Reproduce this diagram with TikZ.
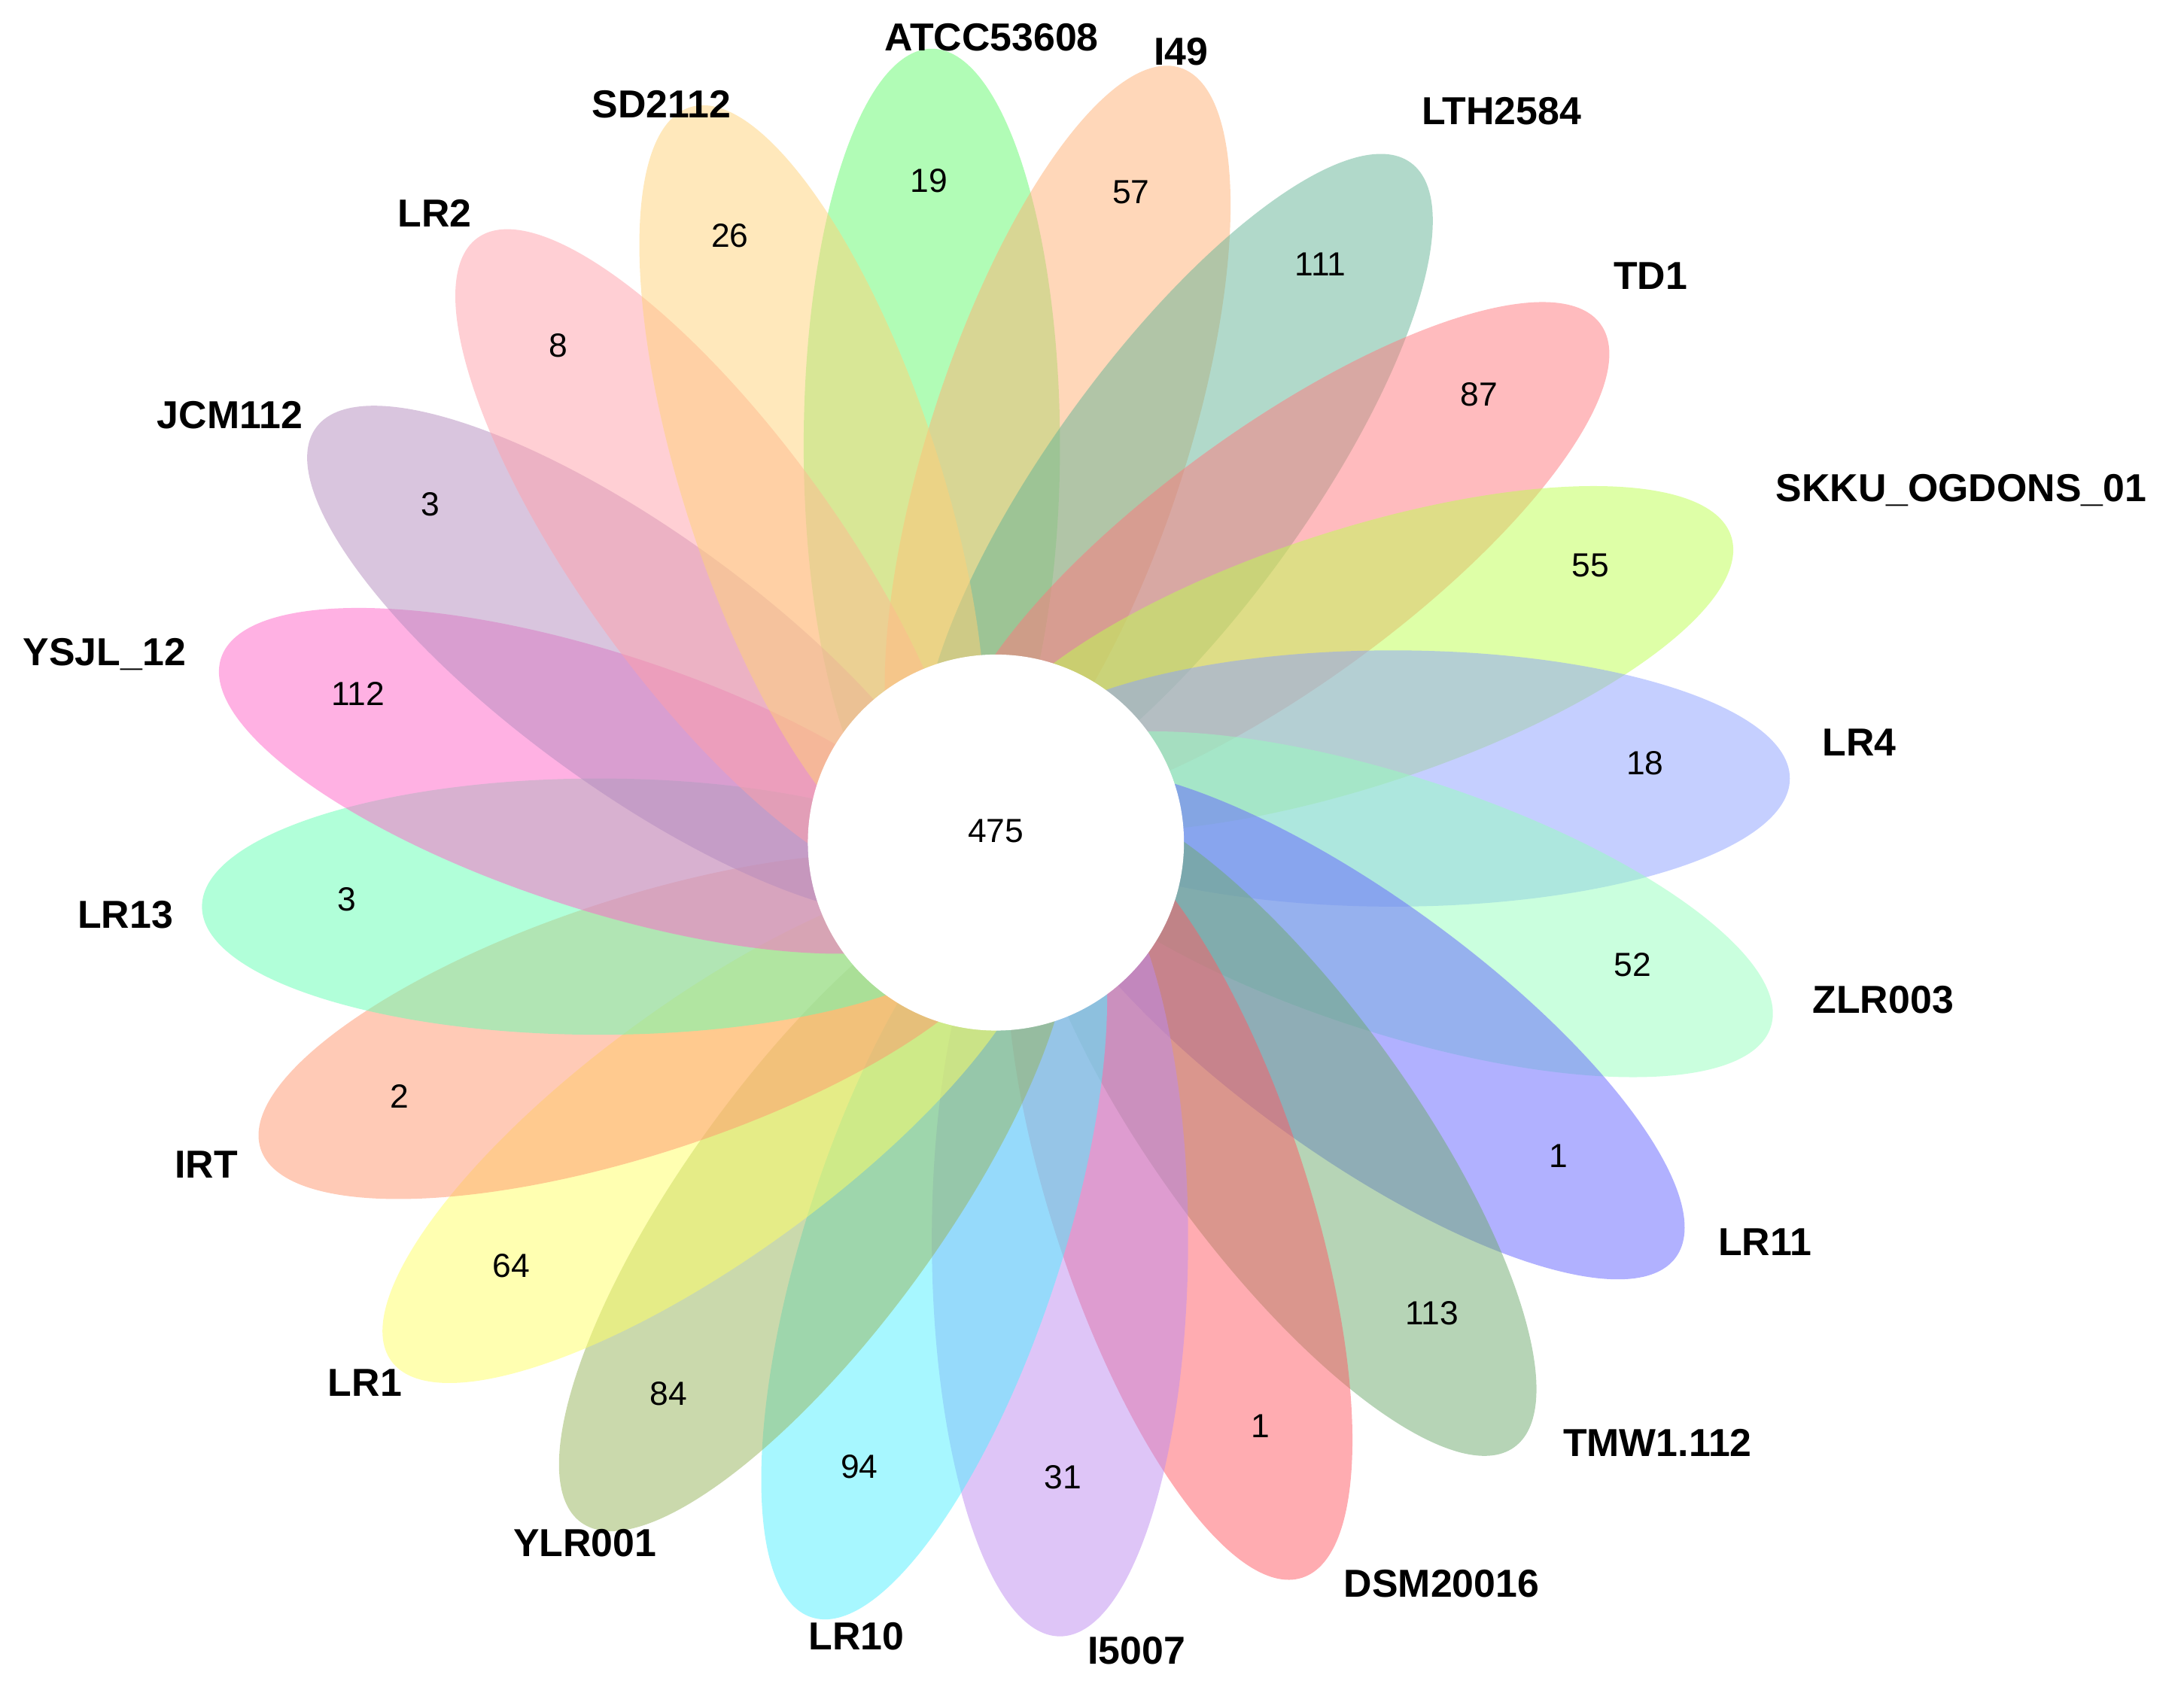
\documentclass[tikz,border=0pt]{standalone}
\usepackage{fontspec}
\setmainfont{Liberation Sans}
\usepackage{xcolor}
\definecolor{c0}{RGB}{100,250,110}
\definecolor{c1}{RGB}{255,175,115}
\definecolor{c2}{RGB}{100,180,150}
\definecolor{c3}{RGB}{255,120,125}
\definecolor{c4}{RGB}{190,255,80}
\definecolor{c5}{RGB}{140,160,255}
\definecolor{c6}{RGB}{150,255,190}
\definecolor{c7}{RGB}{100,100,255}
\definecolor{c8}{RGB}{110,170,110}
\definecolor{c9}{RGB}{255,90,100}
\definecolor{c10}{RGB}{190,140,240}
\definecolor{c11}{RGB}{80,240,255}
\definecolor{c12}{RGB}{150,180,90}
\definecolor{c13}{RGB}{255,255,100}
\definecolor{c14}{RGB}{255,150,110}
\definecolor{c15}{RGB}{100,255,180}
\definecolor{c16}{RGB}{255,100,200}
\definecolor{c17}{RGB}{180,140,190}
\definecolor{c18}{RGB}{255,160,170}
\definecolor{c19}{RGB}{255,210,120}
\tikzset{
  strain/.style={font=\fontsize{14}{16}\selectfont\bfseries},
  count/.style={font=\fontsize{12}{14}\selectfont}
}
\begin{document}
\begin{tikzpicture}[x=0.5pt,y=-0.5pt]
\useasboundingbox (0,0) rectangle (1568,1209);
% petals
\foreach \i in {0,...,19}{
  \begin{scope}[shift={(715,605)},rotate=90-18*\i]
    \fill[c\i,fill opacity=0.5] (285,-46) ellipse [x radius=285,y radius=92];
  \end{scope}
}
\fill[white] (715,605) circle [radius=135];
% strain labels
\foreach \x/\y/\t [count=\k] in {712/27/ATCC53608,848/37/I49,1078/80/LTH2584,1185/198/TD1,
  1408/352/SKKU\_OGDONS\_01,1335/533/LR4,1352/718/ZLR003,1267/892/LR11,1190/1036/TMW1.112,
  1035/1137/DSM20016,816/1185/I5007,615/1175/LR10,420/1108/YLR001,262/993/LR1,148/836/IRT,
  90/657/LR13,75/470/YSJL\_12,165/298/JCM112,312/153/LR2,475/75/SD2112}
  \node[strain] (s\k) at (\x,\y) {\t};
% counts
\foreach \x/\y/\t [count=\k] in {667/130/19,812/138/57,948/190/111,1062/283/87,1142/406/55,
  1181/548/18,1172/693/52,1119/830/1,1028/943/113,905/1024/1,763/1061/31,617/1053/94,
  480/1001/84,367/909/64,287/787/2,249/646/3,257/498/112,309/362/3,401/248/8,524/169/26}
  \node[count] (n\k) at (\x,\y) {\t};
\node[count] (core) at (715,597) {475};
\end{tikzpicture}
\end{document}
